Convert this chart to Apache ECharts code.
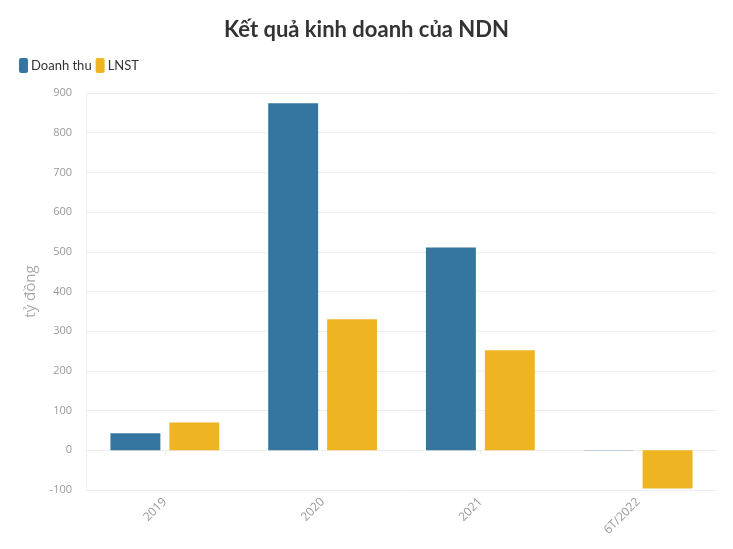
<!DOCTYPE html>
<html><head><meta charset="utf-8">
<script src="https://cdn.jsdelivr.net/npm/echarts@6/dist/echarts.min.js"></script>
<style>html,body{margin:0;padding:0;background:#fff}#c{width:733px;height:549px}</style>
</head><body><div id="c"></div>
<script>
const categories = ['2019', '2020', '2021', '6T/2022'];
const doanhThu = [43, 874, 511, 1];
const lnst = [70, 330, 252, -96];
const yTicks = { min: -100, max: 900, interval: 100 };

const chart = echarts.init(document.getElementById('c'));
chart.setOption({
  animation: false,
  title: {
    text: 'Kết quả kinh doanh của NDN', left: 'center', top: 14,
    textStyle: { fontFamily: 'Lato', fontSize: 22, fontWeight: 'bold', color: '#333' }
  },
  legend: {
    left: 14, top: 53, itemWidth: 9, itemHeight: 15, itemGap: 4, icon: 'roundRect',
    textStyle: { fontFamily: 'Lato', fontSize: 13, color: '#333', padding: [0, 0, 0, -2] },
    data: ['Doanh thu', 'LNST']
  },
  grid: { left: 86, right: 16, top: 93, bottom: 59 },
  xAxis: {
    type: 'category', data: categories,
    axisLine: { show: true, lineStyle: { color: '#eee' } },
    axisTick: { show: true, alignWithLabel: true, length: 4, lineStyle: { color: '#eee' } },
    axisLabel: { rotate: 45, color: '#999', fontSize: 12, fontFamily: 'Open Sans', margin: 10 }
  },
  yAxis: {
    type: 'value', min: yTicks.min, max: yTicks.max, interval: yTicks.interval,
    name: 'tỷ đồng', nameLocation: 'middle', nameGap: 39, nameRotate: 90,
    nameTextStyle: { color: '#aaa', fontSize: 15, fontFamily: 'Open Sans' },
    axisLine: { show: true, lineStyle: { color: '#eee' } },
    axisTick: { show: false },
    axisLabel: { color: '#999', fontSize: 11, fontFamily: 'Open Sans', margin: 14 },
    splitLine: { lineStyle: { color: '#eee' } }
  },
  series: [
    { name: 'Doanh thu', type: 'bar', data: doanhThu, itemStyle: { color: '#34769f' },
      barGap: '18%', barCategoryGap: '31%' },
    { name: 'LNST', type: 'bar', data: lnst, itemStyle: { color: '#eeb422' } }
  ]
});
</script></body></html>
